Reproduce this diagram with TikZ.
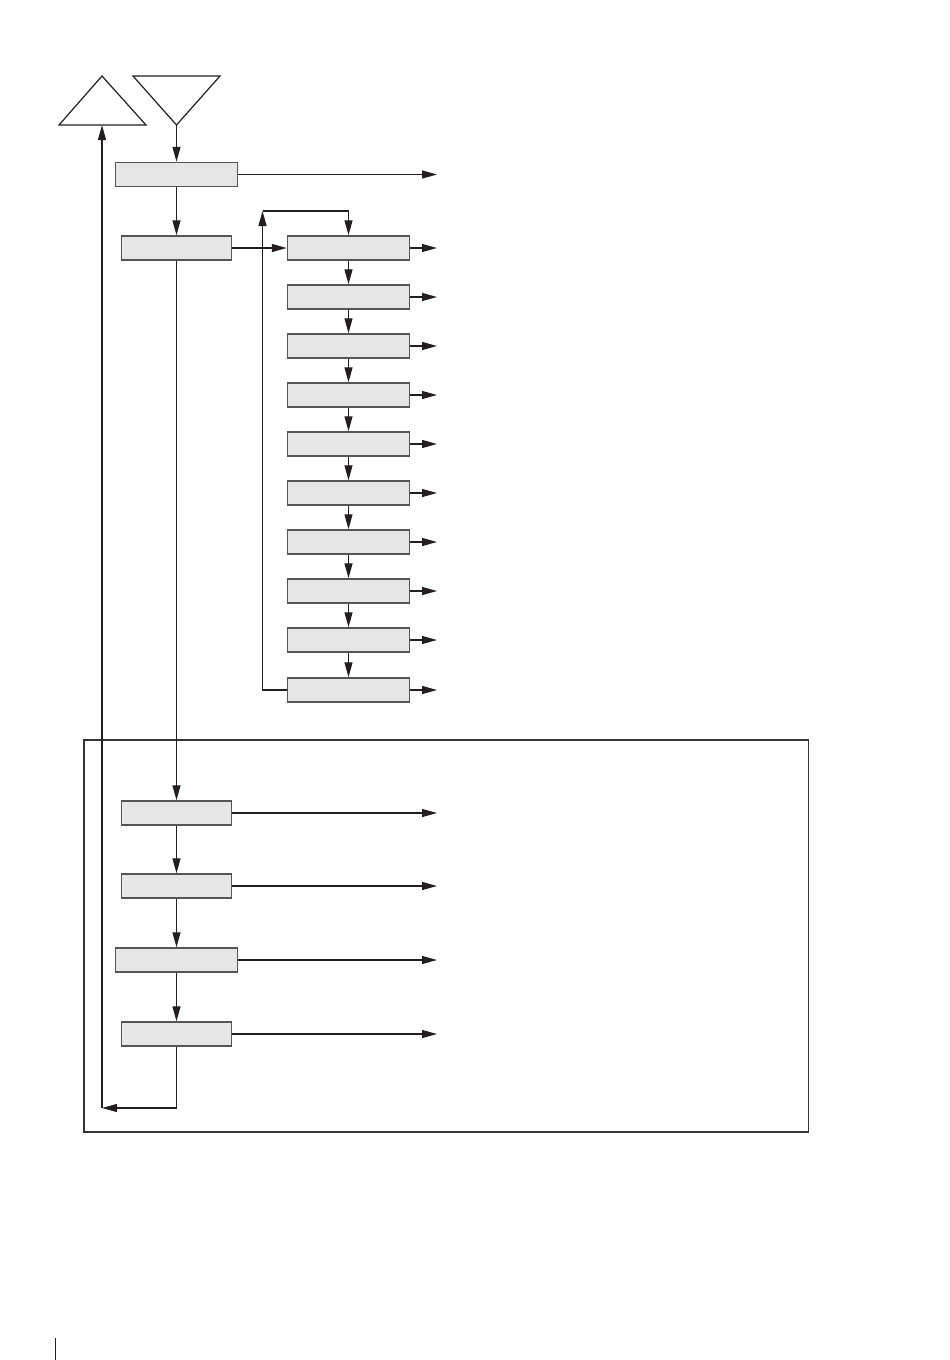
\documentclass[tikz,border=0pt]{standalone}
\usetikzlibrary{arrows.meta}
\definecolor{boxfill}{HTML}{E6E6E6}
\definecolor{boxline}{HTML}{555555}
\definecolor{ink}{HTML}{231F20}
\begin{document}
\begin{tikzpicture}[x=1pt,y=-1pt,
  box/.style={draw=boxline,fill=boxfill,line width=1.5pt,inner sep=0pt,minimum height=24pt},
  narrow/.style={box,minimum width=110pt},
  wide/.style={box,minimum width=122pt},
  col/.style={box,minimum width=122pt},
  conn/.style={draw=ink,line width=1.2pt,-{Triangle[length=15pt,width=8pt]}},
  plain/.style={draw=ink,line width=1.2pt},
  frame/.style={draw=ink!80!gray,line width=1.6pt}]
\useasboundingbox (0,0) rectangle (950,1360);
% triangles
\draw[plain,line join=miter] (59,125) -- (102,76) -- (146,125) -- cycle;
\draw[plain,line join=miter] (133,76) -- (220,76) -- (176.5,125) -- cycle;
\coordinate (tin) at (176.5,125);
\coordinate (tout) at (102,125);
% frame
\draw[frame] (84,740) rectangle (808.5,1132);
% top boxes
\node[wide] (b1) at (176.5,174.5) {};
\node[narrow] (b2) at (176.5,248) {};
% column boxes
\foreach \i/\y in {1/248,2/297,3/346,4/395,5/444,6/493,7/542,8/591,9/640,10/690}{
  \node[col] (c\i) at (348.5,\y) {};
  \coordinate (cr\i) at (437,\y);
}
% lower boxes
\node[narrow] (l1) at (176.5,813) {};
\node[narrow] (l2) at (176.5,886) {};
\node[wide] (l3) at (176.5,960) {};
\node[narrow] (l4) at (176.5,1034) {};
% right-going arrow ends
\coordinate (rb1) at (437,174.5);
\coordinate (rl1) at (437,813);
\coordinate (rl2) at (437,886);
\coordinate (rl3) at (437,960);
\coordinate (rl4) at (437,1034);
% loop coordinates
\coordinate (lc) at (262.5,211);
\coordinate (ret) at (102,1108);
% connectors
\draw[conn] (tin) -- (b1.north);
\draw[conn] (b1.south) -- (b2.north);
\draw[conn] (b1.east) -- (rb1);
\draw[conn] (b2.east) -- (c1.west);
\foreach \i [evaluate=\i as \j using int(\i+1)] in {1,...,9}{
  \draw[conn] (c\i.south) -- (c\j.north);
}
\foreach \i in {1,...,10}{
  \draw[conn] (c\i.east) -- (cr\i);
}
\draw[conn] (c10.west) -| (lc);
\draw[conn] (lc) -| (c1.north);
\draw[conn] (b2.south) -- (l1.north);
\draw[conn] (l1.south) -- (l2.north);
\draw[conn] (l2.south) -- (l3.north);
\draw[conn] (l3.south) -- (l4.north);
\draw[conn] (l1.east) -- (rl1);
\draw[conn] (l2.east) -- (rl2);
\draw[conn] (l3.east) -- (rl3);
\draw[conn] (l4.east) -- (rl4);
\draw[conn] (l4.south) |- (ret);
\draw[conn] (ret) -- (tout);
% page mark
\draw[plain] (55.5,1338) -- (55.5,1360);
\end{tikzpicture}
\end{document}
